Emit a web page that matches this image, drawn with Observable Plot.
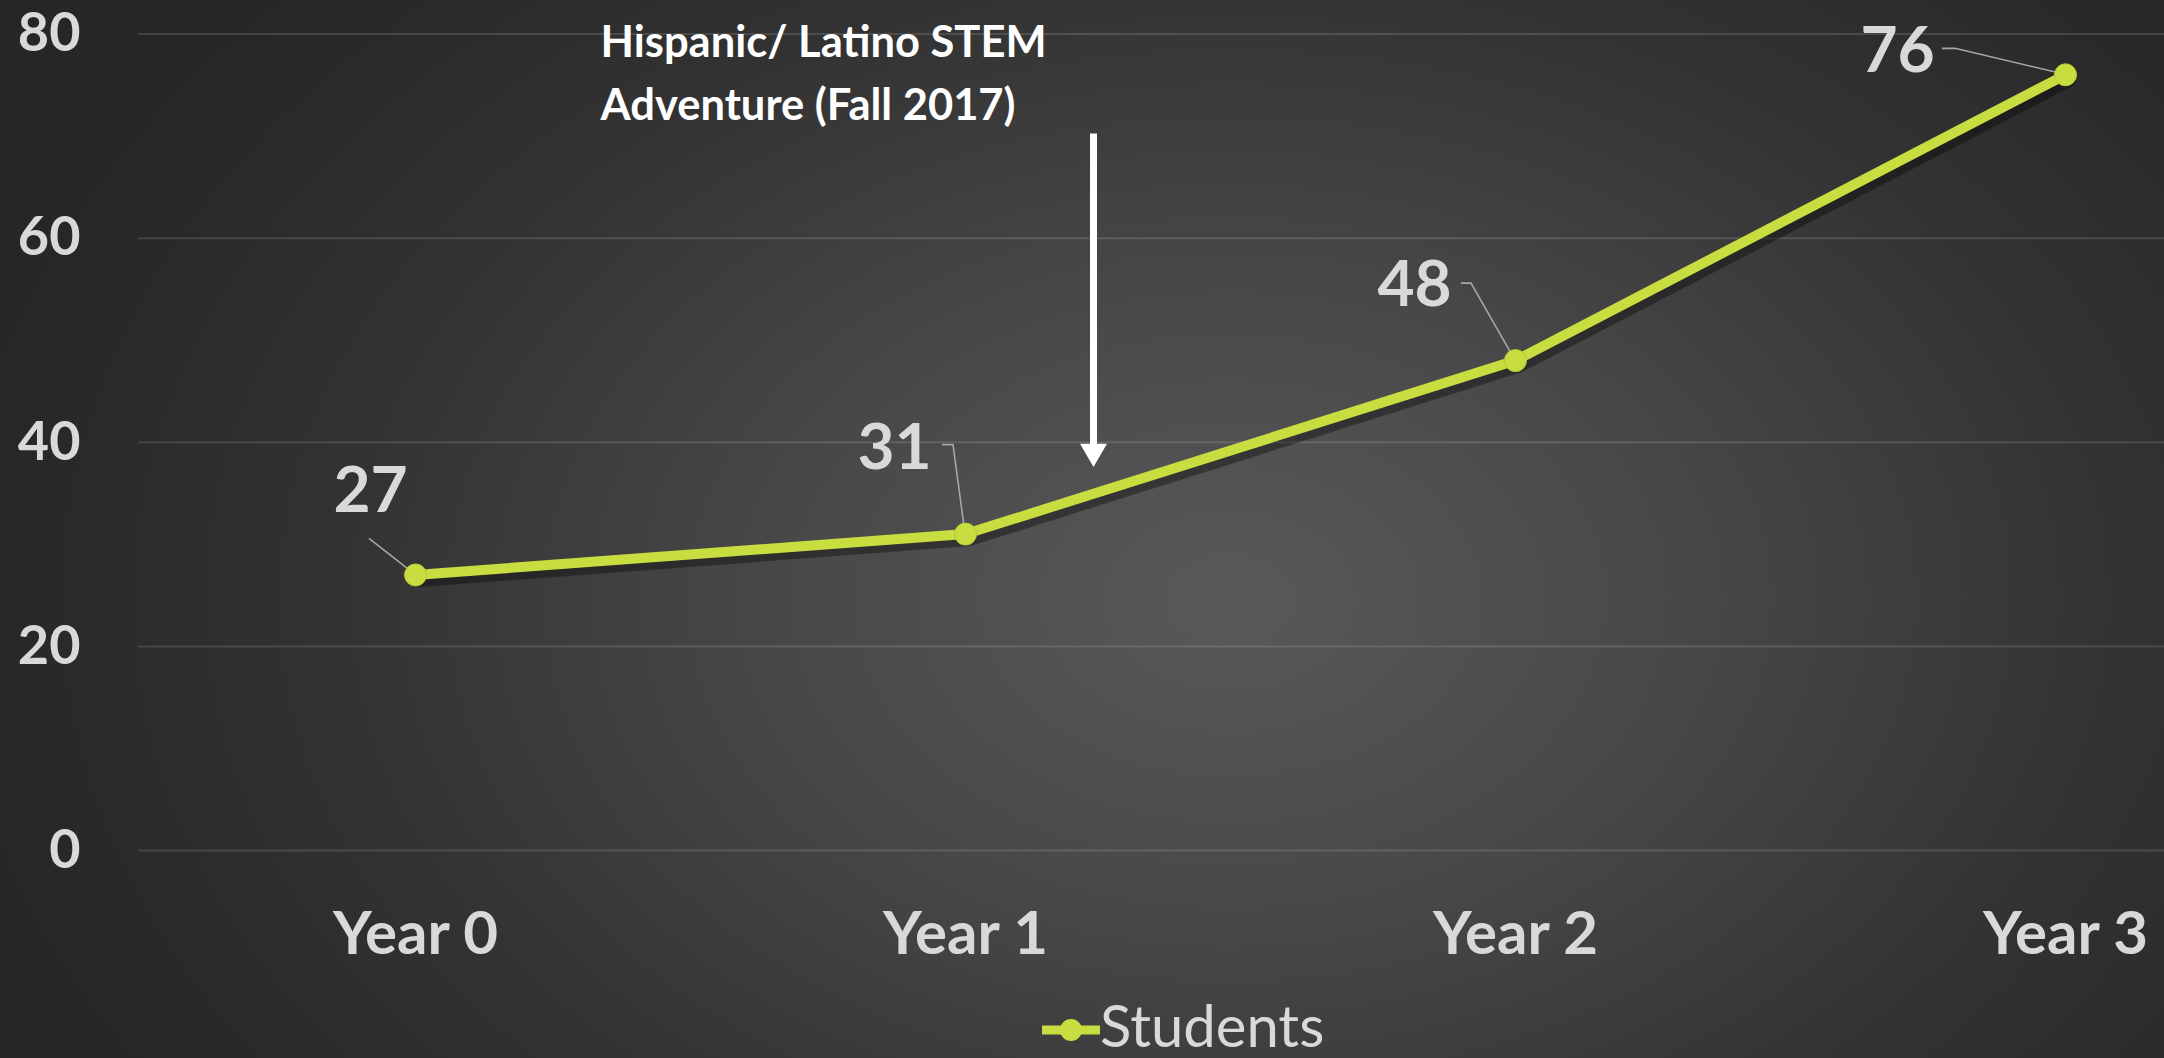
<!DOCTYPE html>
<html>
<head>
<meta charset="utf-8">
<script src="https://cdn.jsdelivr.net/npm/d3@7"></script>
<script src="https://cdn.jsdelivr.net/npm/@observablehq/plot@0.6"></script>
<style>
  html, body { margin: 0; padding: 0; width: 2164px; height: 1058px; overflow: hidden; }
  body {
    position: relative;
    font-family: Lato, "Open Sans", sans-serif;
    background: radial-gradient(ellipse 1350px 950px at 1230px 600px, #595959 0%, #474747 35%, #333333 65%, #282828 90%, #262626 100%);
  }
  #chart { position: absolute; left: 0; top: 0; }
  #chart svg { background: transparent; overflow: visible; }
  g[aria-label="annotation"] text { filter: drop-shadow(3px 4px 3px rgba(0,0,0,0.75)); }
  g[aria-label="arrow"] { filter: drop-shadow(3px 4px 3px rgba(0,0,0,0.6)); }
  #legend { position: absolute; left: 1042px; top: 996px; display: flex; align-items: flex-start; }
  #legend svg { margin-top: 22px; }
  #legend span { color: #d9d9d9; font-size: 58px; line-height: 57px; font-family: Lato, sans-serif; }
</style>
</head>
<body>
<div id="chart"></div>
<div id="legend"></div>
<script>
// ---- data ----
const categories = ["Year 0", "Year 1", "Year 2", "Year 3"];
const students = [27, 31, 48, 76];
const yTicks = [0, 20, 40, 60, 80];
const seriesName = "Students";
const annotationLines = ["Hispanic/ Latino STEM", "Adventure (Fall 2017)"];
// annotation arrow: drawn after Year 1, from value ~70 down to ~39
const arrowCategory = ["Year 1"];
const arrowFromTo = [70.2, 39.1];

// ---- layout (pixel offsets for labels, not data) ----
const labelOffsets = [[-45, -83], [-71, -86], [-101, -75], [-168, -23]];
const leaderOffsets = [
  [[-46, -36], [0, 0]],
  [[-23, -89], [-12, -89], [0, 0]],
  [[-54, -77], [-44, -77], [0, 0]],
  [[-123, -26], [-110, -26], [0, 0]]
];

const green = "#c8dd3f";
const labelGray = "#d9d9d9";

const data = categories.map((c, i) => ({category: c, value: students[i]}));
const arrowData = [{category: arrowCategory[0], from: arrowFromTo[0], to: arrowFromTo[1]}];

const leaders = (index, scales) => {
  const g = d3.create("svg:g").attr("aria-label", "leaders");
  data.forEach((d, i) => {
    const px = scales.x(d.category), py = scales.y(d.value);
    const pts = leaderOffsets[i].map(([ox, oy]) => [px + ox, py + oy]);
    g.append("path")
      .attr("d", d3.line()(pts))
      .attr("fill", "none")
      .attr("stroke", "#a6a6a6")
      .attr("stroke-width", 1.6);
  });
  return g.node();
};

const plot = Plot.plot({
  width: 2164,
  height: 990,
  marginLeft: 138,
  marginRight: 0,
  marginTop: 33.5,
  marginBottom: 140,
  style: {background: "transparent", color: labelGray, fontFamily: "Lato, sans-serif", overflow: "visible"},
  x: {type: "point", domain: categories, range: [414, 2065], padding: 0, label: null},
  y: {domain: [0, 80], label: null},
  marks: [
    Plot.ruleY(yTicks, {stroke: "white", strokeOpacity: 0.13, strokeWidth: 2}),
    Plot.axisY({ticks: yTicks, tickSize: 0, tickPadding: 58, fontSize: 54, fontWeight: 700, fill: labelGray, label: null}),
    Plot.axisX({tickSize: 0, tickPadding: 61, fontSize: 60, fontWeight: 700, fill: labelGray, label: null}),
    Plot.line(data, {x: "category", y: "value", stroke: "black", strokeOpacity: 0.35, strokeWidth: 12, dx: 4, dy: 6}),
    Plot.line(data, {x: "category", y: "value", stroke: green, strokeWidth: 10}),
    leaders,
    Plot.dot(data, {x: "category", y: "value", r: 11, fill: green, stroke: "#b5c936", strokeWidth: 1}),
    ...data.map((d, i) => Plot.text([d], {
      x: "category", y: "value", text: (d) => String(d.value),
      dx: labelOffsets[i][0], dy: labelOffsets[i][1],
      fontSize: 64, fontWeight: 700, fill: labelGray
    })),
    Plot.ruleX(arrowData, {x: "category", y1: "from", y2: "to", dx: 128, stroke: "white", strokeWidth: 7, ariaLabel: "arrow"}),
    Plot.dot(arrowData, {x: "category", y: "to", dx: 128, symbol: "triangle", rotate: 180, r: 10, fill: "white", stroke: "none", ariaLabel: "arrow"}),
    Plot.text([annotationLines.join("\n")], {
      frameAnchor: "top-left", dx: 462, dy: -22, textAnchor: "start", lineAnchor: "top",
      fontSize: 43.5, fontWeight: 700, fill: "white", lineHeight: 1.45, ariaLabel: "annotation"
    })
  ]
});
document.getElementById("chart").appendChild(plot);

// legend
const legend = d3.select("#legend");
const sw = legend.append("svg").attr("width", 58).attr("height", 24);
sw.append("line").attr("x1", 0).attr("x2", 58).attr("y1", 12).attr("y2", 12).attr("stroke", green).attr("stroke-width", 9);
sw.append("circle").attr("cx", 29).attr("cy", 12).attr("r", 11).attr("fill", green);
legend.append("span").text(seriesName);
</script>
</body>
</html>
